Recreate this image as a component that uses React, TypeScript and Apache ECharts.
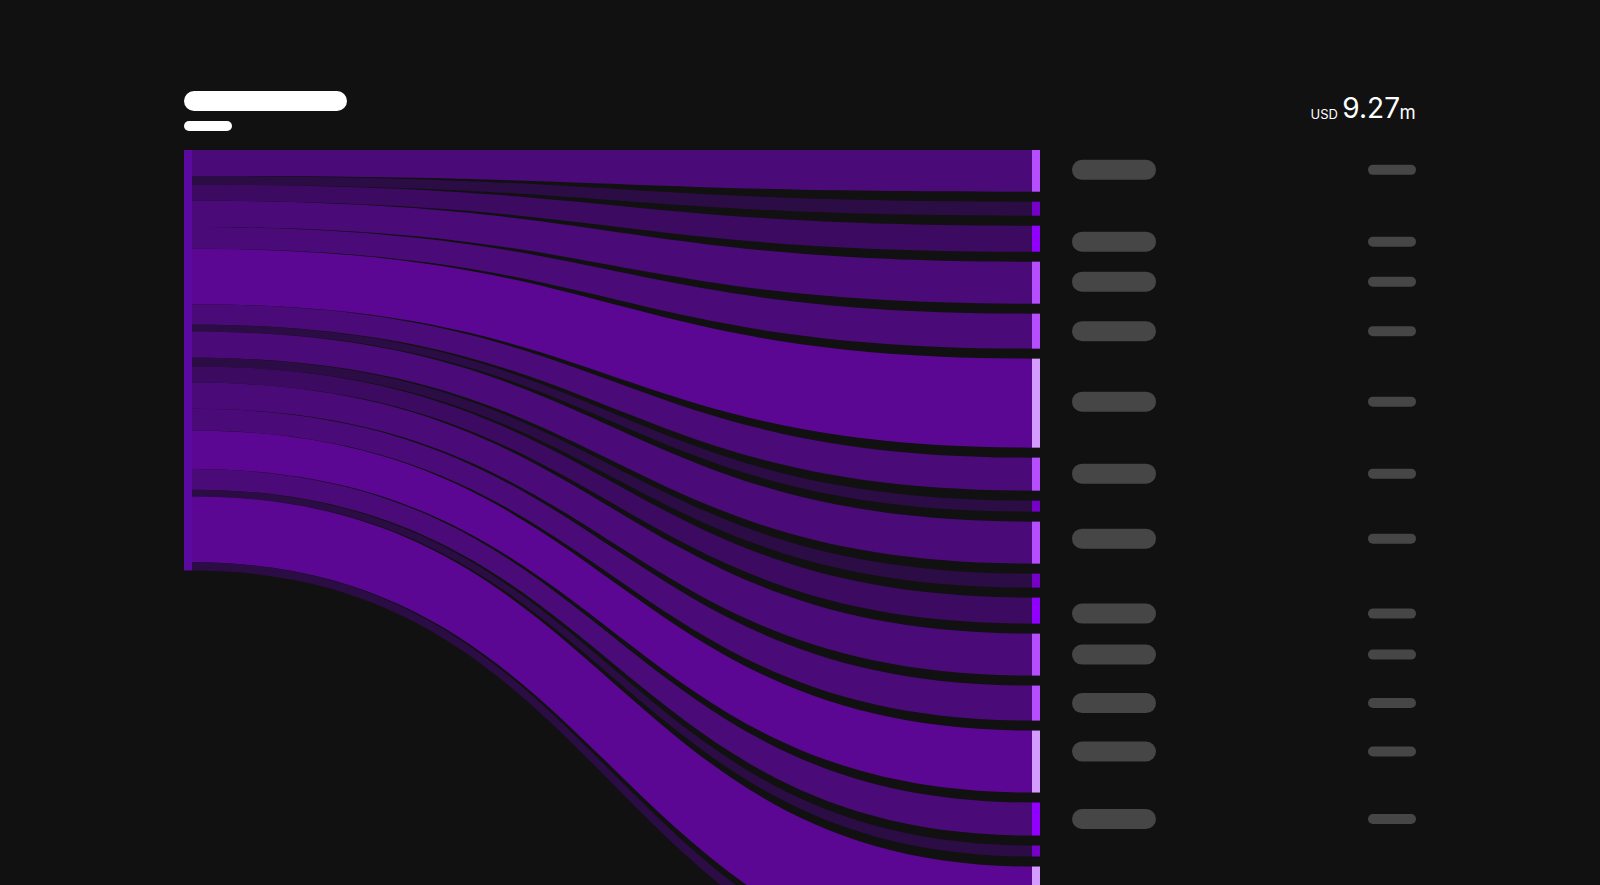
import React, { useEffect, useRef } from "react";
import * as echarts from "echarts";

// ---- data (values in thousands of USD) ----
const SOURCE_NAME = "Total";
const TARGET_NAMES = [
  "T01", "T02", "T03", "T04", "T05", "T06", "T07", "T08", "T09",
  "T10", "T11", "T12", "T13", "T14", "T15", "T16", "T17", "T18",
];
const FLOW_VALUES = [572, 192, 357, 576, 480, 1221, 453, 151, 576, 192, 357, 576, 480, 850, 453, 151, 1450, 183];
const TARGET_TIERS = [
  "light", "dark", "bright", "light", "light", "pale", "light", "dark", "light",
  "dark", "bright", "light", "light", "pale", "bright", "dark", "pale", "dark",
];
const LINK_TIERS = [
  "medium", "darkest", "deep", "medium", "medium", "bright", "medium", "darkest", "medium",
  "darkest", "deep", "medium", "medium", "bright", "medium", "darkest", "bright", "darkest",
];
const TOTAL_LABEL = { unit: "USD", amount: "9.27", suffix: "m" };

// ---- styles ----
const BG = "#111111";
const NODE_COLORS: Record<string, string> = {
  pale: "#d59cff",
  light: "#b64eff",
  bright: "#9100ff",
  dark: "#7700c9",
};
const LINK_COLORS: Record<string, string> = {
  bright: "#5b0793",
  medium: "#4a0a78",
  deep: "#3d0a62",
  darkest: "#2c0c45",
};
const SOURCE_COLOR = "#5a0a9e";
const SKELETON = "#464646";
const NODE_W = 8;
const Y_MAX = 16200;
const TARGET_STRETCH = 1.607;
const NODE_GAP = 220;
const LABEL_MIN_VALUE = 300;
// small vertical nudges of the skeleton labels (px), as in the reference
const LABEL_NUDGE = [-1, 0, 3, -1, 0, -1.5, -0.5, 0, -4, 0, 3, 0, 0, -10, 0, 0, 0, 0];

// layout derived from the values
const TOTAL = FLOW_VALUES.reduce((a, b) => a + b, 0);
const linkData: number[][] = [];
{
  let cs = 0;
  let ct = 0;
  FLOW_VALUES.forEach((v) => {
    const s0 = cs;
    const s1 = cs + v;
    const t0 = ct;
    const t1 = ct + v * TARGET_STRETCH;
    linkData.push([0, s0, s1, t0, t1, v]);
    cs = s1;
    ct = t1 + NODE_GAP;
  });
}

export default function App() {
  const ref = useRef<HTMLDivElement>(null);
  useEffect(() => {
    if (!ref.current) return;
    const chart = echarts.init(ref.current, undefined, { renderer: "svg" });
    const option: any = {
      animation: false,
      backgroundColor: BG,
      grid: { left: 184, right: 560, top: 150, bottom: 0 },
      xAxis: { type: "value", min: 0, max: 1, show: false },
      yAxis: { type: "value", min: 0, max: Y_MAX, inverse: true, show: false },
      graphic: [
        { type: "rect", shape: { x: 184, y: 91, width: 163, height: 20, r: 10 }, style: { fill: "#ffffff" } },
        { type: "rect", shape: { x: 184, y: 121, width: 48, height: 10, r: 5 }, style: { fill: "#ffffff" } },
        {
          type: "text", x: 1338, y: 113.5,
          style: { text: TOTAL_LABEL.unit, fill: "#ffffff", fontSize: 13, fontFamily: "Inter", textAlign: "right", verticalAlign: "middle" },
        },
        {
          type: "text", x: 1400, y: 108,
          style: { text: TOTAL_LABEL.amount, fill: "#ffffff", fontSize: 28, fontFamily: "Inter", textAlign: "right", verticalAlign: "middle" },
        },
        {
          type: "text", x: 1399.5, y: 111.5,
          style: { text: TOTAL_LABEL.suffix, fill: "#ffffff", fontSize: 18.5, fontFamily: "Inter", textAlign: "left", verticalAlign: "middle" },
        },
      ],
      series: [
        {
          type: "custom",
          name: "links",
          silent: true,
          coordinateSystem: "cartesian2d",
          data: linkData,
          renderItem: (params: any, api: any) => {
            const i = params.dataIndex;
            const a0 = api.coord([0, api.value(1)]);
            const a1 = api.coord([0, api.value(2)]);
            const b0 = api.coord([1, api.value(3)]);
            const b1 = api.coord([1, api.value(4)]);
            const x0 = a0[0] + NODE_W;
            const x1 = b0[0] - NODE_W;
            const xm = (x0 + x1) / 2;
            const d =
              `M${x0},${a0[1]}C${xm},${a0[1]} ${xm},${b0[1]} ${x1},${b0[1]}` +
              `L${x1},${b1[1]}C${xm},${b1[1]} ${xm},${a1[1]} ${x0},${a1[1]}Z`;
            const children: any[] = [
              { type: "path", shape: { pathData: d }, style: { fill: LINK_COLORS[LINK_TIERS[i]] } },
              {
                type: "rect",
                shape: { x: x1, y: b0[1], width: NODE_W, height: b1[1] - b0[1] },
                style: { fill: NODE_COLORS[TARGET_TIERS[i]] },
              },
            ];
            if (api.value(5) >= LABEL_MIN_VALUE) {
              const cy = (b0[1] + b1[1]) / 2 + LABEL_NUDGE[i];
              const nx = b0[0];
              children.push(
                { type: "rect", shape: { x: nx + 32, y: cy - 10, width: 84, height: 20, r: 10 }, style: { fill: SKELETON } },
                { type: "rect", shape: { x: nx + 328, y: cy - 5, width: 48, height: 10, r: 5 }, style: { fill: SKELETON } },
              );
            }
            return { type: "group", children };
          },
        },
        {
          type: "custom",
          name: SOURCE_NAME,
          silent: true,
          coordinateSystem: "cartesian2d",
          data: [[0, 0, TOTAL]],
          renderItem: (params: any, api: any) => {
            const p0 = api.coord([0, api.value(1)]);
            const p1 = api.coord([0, api.value(2)]);
            return {
              type: "rect",
              shape: { x: p0[0], y: p0[1], width: NODE_W, height: p1[1] - p0[1] },
              style: { fill: SOURCE_COLOR },
            };
          },
        },
      ],
    };
    chart.setOption(option);
    return () => chart.dispose();
  }, []);
  return (
    <div
      ref={ref}
      style={{ position: "fixed", left: 0, top: 0, width: 1600, height: 885, background: BG }}
    />
  );
}
